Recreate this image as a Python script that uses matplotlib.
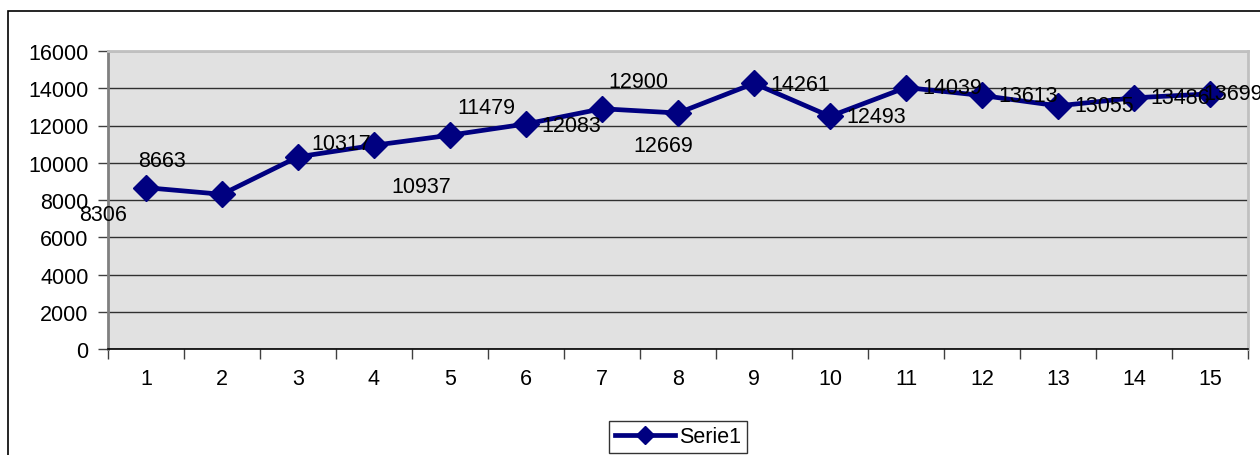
import matplotlib
matplotlib.use("Agg")
import matplotlib.pyplot as plt
from matplotlib.patches import Rectangle
from matplotlib.ticker import FixedLocator, NullFormatter
from matplotlib.lines import Line2D

categories = [str(i) for i in range(1, 16)]
values = [8663, 8306, 10317, 10937, 11479, 12083, 12900, 12669, 14261,
          12493, 14039, 13613, 13055, 13486, 13699]
series_name = "Serie1"
yticks = [0, 2000, 4000, 6000, 8000, 10000, 12000, 14000, 16000]

# label offsets in pixels (position/style only)
label_offsets = [(16, 27), (-119, -20), (43, 13), (47, -41), (36, 28),
                 (45, -2), (36, 27), (-15, -32), (46, -1), (46, 0),
                 (46, 0), (46, 0), (46, 0), (46, 0), (23, 0)]

plt.rcParams['font.family'] = ['Liberation Sans', 'DejaVu Sans']
FS = 15.5
W, H = 1260, 456
fig = plt.figure(figsize=(W / 100, H / 100), dpi=100)
ax = fig.add_axes([108 / W, 1 - 350 / H, (1248 - 108) / W, (350 - 52) / H])

navy = '#000080'
ax.set_facecolor('#E1E1E1')
x = list(range(len(categories)))
line, = ax.plot(x, values, color=navy, lw=3.4, marker='D', ms=13,
                markerfacecolor=navy, markeredgecolor=navy, zorder=3,
                label=series_name, clip_on=False)

for xi, v, (dx, dy) in zip(x, values, label_offsets):
    ax.annotate(str(v), (xi, v), xytext=(dx, dy), textcoords='offset pixels',
                ha='center', va='center', fontsize=FS, color='black',
                zorder=4, annotation_clip=False)

ax.set_xlim(-0.5, len(categories) - 0.5)
ax.set_ylim(0, 16000)
ax.set_yticks(yticks)
ax.set_yticklabels([str(t) for t in yticks], fontsize=FS)
ax.set_xticks(x)
ax.set_xticklabels(categories, fontsize=FS)
ax.xaxis.set_minor_locator(FixedLocator([i - 0.5 for i in range(len(categories) + 1)]))
ax.xaxis.set_minor_formatter(NullFormatter())
ax.tick_params(axis='x', which='major', length=0, pad=14)
ax.tick_params(axis='x', which='minor', length=7, width=1, color='#404040', direction='out')
ax.tick_params(axis='y', which='major', length=7, width=1, color='#404040', direction='out', pad=7)

ax.grid(axis='y', color='#303030', lw=1)
ax.set_axisbelow(True)
for s in ['top', 'right']:
    ax.spines[s].set_color('#C0C0C0')
    ax.spines[s].set_linewidth(2)
ax.spines['left'].set_color('#808080')
ax.spines['left'].set_linewidth(2)
ax.spines['bottom'].set_color('black')
ax.spines['bottom'].set_linewidth(1.2)

handle = Line2D([], [], color=navy, lw=3.4, marker='D', ms=9,
                markerfacecolor=navy, markeredgecolor=navy)
leg = fig.legend(handles=[handle], labels=[series_name], loc='center',
                 bbox_to_anchor=(678 / W, 1 - 438 / H),
                 fontsize=FS, frameon=True, fancybox=False, edgecolor='black',
                 handlelength=2.8, handletextpad=0.2, borderpad=0.25, borderaxespad=0)
leg.get_frame().set_linewidth(1)

fig.patches.append(Rectangle((8 / W, -0.2), 1.2, 1.2 - 12 / H, transform=fig.transFigure,
                             fill=False, edgecolor='black', lw=1.2, zorder=0))

fig.savefig('out.png', dpi=100)
